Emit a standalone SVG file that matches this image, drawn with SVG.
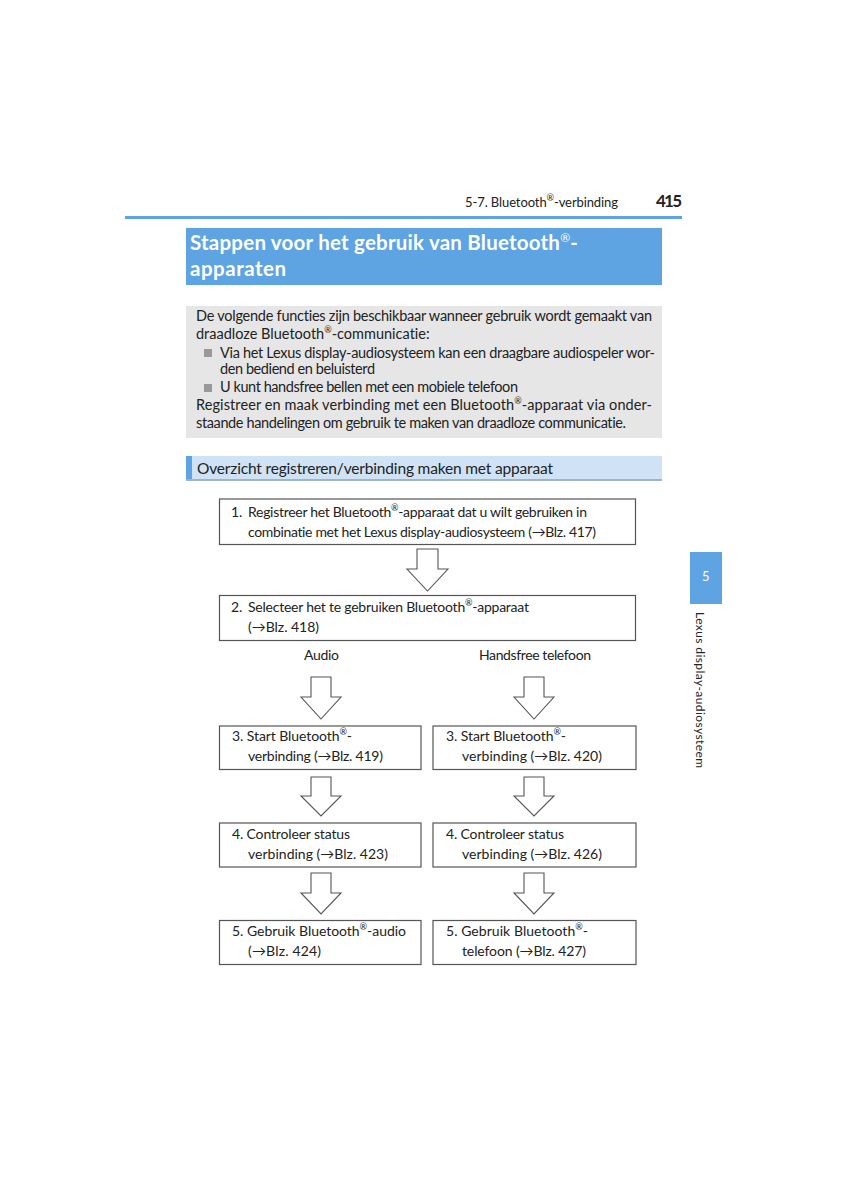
<svg xmlns="http://www.w3.org/2000/svg" width="848" height="1200" viewBox="0 0 848 1200">
<defs>
<style>
text{font-family:Lato,"Liberation Sans","DejaVu Sans",sans-serif;fill:#222;font-variant-ligatures:none;font-feature-settings:"liga" 0,"clig" 0;}
.hd{font-size:13px;}
.pg{font-size:17px;font-weight:bold;}
.ttl{font-size:20.5px;font-weight:bold;fill:#fff;}
.body{font-size:14.5px;}
.sub{font-size:15.5px;}
.bx{font-size:14px;}
.box{fill:#fff;stroke:#555;stroke-width:1.2;}
.arr{fill:#fff;stroke:#555;stroke-width:1.1;stroke-linejoin:miter;}
.sup{font-size:9px;}
</style>
</defs>
<rect width="848" height="1200" fill="#fff"/>
<g id="header">
<text class="hd" x="465" y="207" textLength="153">5-7. Bluetooth<tspan class="sup" dy="-6">®</tspan><tspan dy="6">-verbinding</tspan></text>
<text class="pg" x="656" y="207" textLength="26">415</text>
<rect x="125" y="216" width="557" height="3" fill="#5ea4e2"/>
</g>
<g id="title">
<rect x="186" y="228" width="476" height="57" fill="#5ea4e2"/>
<text class="ttl" x="190" y="250" textLength="388">Stappen voor het gebruik van Bluetooth<tspan class="sup" dy="-8" style="font-size:12px;font-weight:normal">®</tspan><tspan dy="8">-</tspan></text>
<text class="ttl" x="190" y="276" textLength="96">apparaten</text>
</g>
<g id="intro">
<rect x="186" y="306" width="476" height="132" fill="#e6e6e6"/>
<text class="body" x="196" y="321" textLength="456">De volgende functies zijn beschikbaar wanneer gebruik wordt gemaakt van</text>
<text class="body" x="196" y="339">draadloze Bluetooth<tspan class="sup" dy="-6">®</tspan><tspan dy="6">-communicatie:</tspan></text>
<rect x="204" y="349" width="8" height="8" fill="#999"/>
<text class="body" x="220" y="358" textLength="435">Via het Lexus display-audiosysteem kan een draagbare audiospeler wor-</text>
<text class="body" x="220" y="374" textLength="155">den bediend en beluisterd</text>
<rect x="204" y="384" width="8" height="8" fill="#999"/>
<text class="body" x="220" y="392" textLength="298">U kunt handsfree bellen met een mobiele telefoon</text>
<text class="body" x="196" y="410" textLength="456">Registreer en maak verbinding met een Bluetooth<tspan class="sup" dy="-6">®</tspan><tspan dy="6">-apparaat via onder-</tspan></text>
<text class="body" x="196" y="428" textLength="430">staande handelingen om gebruik te maken van draadloze communicatie.</text>
</g>
<g id="subheader">
<rect x="186" y="456" width="476" height="24" fill="#cfe2f6"/>
<rect x="186" y="456" width="6" height="24" fill="#5ea4e2"/>
<rect x="186" y="479" width="476" height="2" fill="#9fb4c8"/>
<text class="sub" x="197" y="474" textLength="356">Overzicht registreren/verbinding maken met apparaat</text>
</g>
<g id="connectors">
<polygon class="arr" points="417,549 438,549 438,569 448,569 427.5,591 407,569 417,569"/>
<polygon class="arr" points="311,677 331,677 331,697 341,697 321,719 301,697 311,697"/>
<polygon class="arr" points="524,677 544,677 544,697 554,697 534,719 514,697 524,697"/>
<polygon class="arr" points="311,777 331,777 331,796 341,796 321,816 301,796 311,796"/>
<polygon class="arr" points="524,777 544,777 544,796 554,796 534,816 514,796 524,796"/>
<polygon class="arr" points="311,873 331,873 331,893 341,893 321,914 301,893 311,893"/>
<polygon class="arr" points="524,873 544,873 544,893 554,893 534,914 514,893 524,893"/>
</g>
<g id="step1">
<rect class="box" x="219.5" y="499" width="416" height="45.5"/>
<text class="bx" x="231" y="517">1.</text>
<text class="bx" x="248" y="517" textLength="339">Registreer het Bluetooth<tspan class="sup" dy="-6">®</tspan><tspan dy="6">-apparaat dat u wilt gebruiken in</tspan></text>
<text class="bx" x="248" y="537" textLength="348">combinatie met het Lexus display-audiosysteem (→Blz. 417)</text>
</g>
<g id="step2">
<rect class="box" x="219.5" y="595.5" width="416" height="45"/>
<text class="bx" x="231" y="612">2.</text>
<text class="bx" x="248" y="612" textLength="281">Selecteer het te gebruiken Bluetooth<tspan class="sup" dy="-6">®</tspan><tspan dy="6">-apparaat</tspan></text>
<text class="bx" x="248" y="632" textLength="71">(→Blz. 418)</text>
</g>
<g id="label-audio">
<text class="bx" x="304" y="660" textLength="35">Audio</text>
</g>
<g id="label-handsfree">
<text class="bx" x="479" y="660" textLength="112">Handsfree telefoon</text>
</g>
<g id="step3-audio">
<rect class="box" x="219.5" y="726" width="201.5" height="43.5"/>
<text class="bx" x="232" y="741" textLength="120">3. Start Bluetooth<tspan class="sup" dy="-6">®</tspan><tspan dy="6">-</tspan></text>
<text class="bx" x="248" y="761" textLength="135">verbinding (→Blz. 419)</text>
</g>
<g id="step3-phone">
<rect class="box" x="433" y="726" width="203" height="43.5"/>
<text class="bx" x="446" y="741" textLength="120">3. Start Bluetooth<tspan class="sup" dy="-6">®</tspan><tspan dy="6">-</tspan></text>
<text class="bx" x="462" y="761" textLength="140">verbinding (→Blz. 420)</text>
</g>
<g id="step4-audio">
<rect class="box" x="219.5" y="823" width="201.5" height="44"/>
<text class="bx" x="232" y="839" textLength="118">4. Controleer status</text>
<text class="bx" x="248" y="859" textLength="140">verbinding (→Blz. 423)</text>
</g>
<g id="step4-phone">
<rect class="box" x="433" y="823" width="203" height="44"/>
<text class="bx" x="446" y="839" textLength="118">4. Controleer status</text>
<text class="bx" x="462" y="859" textLength="140">verbinding (→Blz. 426)</text>
</g>
<g id="step5-audio">
<rect class="box" x="219.5" y="920.5" width="201.5" height="44"/>
<text class="bx" x="232" y="936" textLength="174">5. Gebruik Bluetooth<tspan class="sup" dy="-6">®</tspan><tspan dy="6">-audio</tspan></text>
<text class="bx" x="248" y="956" textLength="73">(→Blz. 424)</text>
</g>
<g id="step5-phone">
<rect class="box" x="433" y="920.5" width="203" height="44"/>
<text class="bx" x="446" y="936" textLength="142">5. Gebruik Bluetooth<tspan class="sup" dy="-6">®</tspan><tspan dy="6">-</tspan></text>
<text class="bx" x="462" y="956" textLength="124">telefoon (→Blz. 427)</text>
</g>
<g id="side-tab">
<rect x="690" y="552" width="32" height="52" fill="#5ea4e2"/>
<text x="702" y="581" style="font-size:13px;fill:#fff">5</text>
<text transform="translate(696,612) rotate(90)" style="font-size:12px" textLength="156">Lexus display-audiosysteem</text>
</g>
</svg>
